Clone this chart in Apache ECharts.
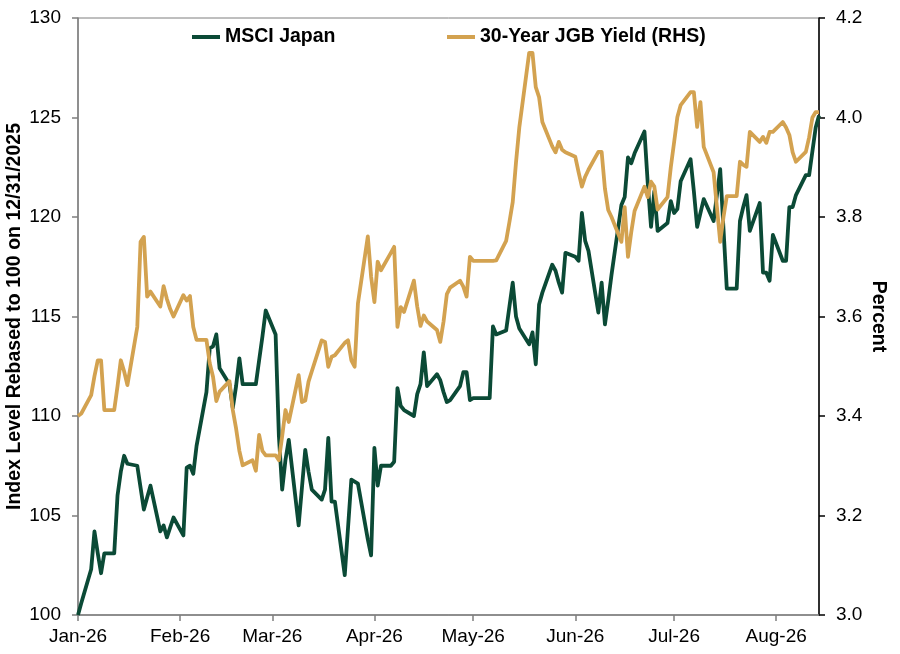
<!DOCTYPE html>
<html>
<head>
<meta charset="utf-8">
<title>MSCI Japan vs 30-Year JGB Yield</title>
<script src="https://cdn.jsdelivr.net/npm/echarts@6/dist/echarts.min.js"></script>
<style>
  html, body { margin: 0; padding: 0; background: #fff; }
  #chart { width: 900px; height: 654px; }
</style>
</head>
<body>
<div id="chart"></div>
<script>
// date range of the daily series (weekdays, holidays carried forward)
const firstDay = '2026-01-01';
const lastDay = '2026-08-14';

// x axis ticks
const monthStarts = ['2026-01-01', '2026-02-01', '2026-03-01', '2026-04-01',
  '2026-05-01', '2026-06-01', '2026-07-01', '2026-08-01'];
const monthLabels = ['Jan-26', 'Feb-26', 'Mar-26', 'Apr-26', 'May-26', 'Jun-26', 'Jul-26', 'Aug-26'];

// MSCI Japan, rebased to 100 on 12/31/2025 (left axis)
const msciJapan = [
  100.0, 100.6, 102.3, 104.2, 103.1, 102.1, 103.1, 103.1, 106.0, 107.2,
  108.0, 107.6, 107.5, 106.4, 105.3, 105.9, 106.5, 104.2, 104.5, 103.9,
  104.4, 104.9, 104.0, 107.4, 107.5, 107.1, 108.5, 111.2, 113.4, 113.5,
  114.1, 112.4, 111.6, 110.4, 111.5, 112.9, 111.6, 111.6, 111.6, 112.8,
  114.0, 115.3, 114.1, 109.0, 106.3, 107.8, 108.8, 104.5, 106.4, 108.3,
  107.2, 106.3, 105.8, 106.3, 108.9, 105.7, 105.7, 102.0, 104.4, 106.8,
  106.7, 106.6, 103.8, 103.0, 108.4, 106.5, 107.5, 107.5, 107.7, 111.4,
  110.5, 110.3, 110.0, 111.1, 111.6, 113.2, 111.5, 112.1, 111.8, 111.2,
  110.7, 110.8, 111.5, 112.2, 112.2, 110.8, 110.9, 110.9, 110.9, 110.9,
  114.5, 114.1, 114.3, 115.5, 116.7, 115.0, 114.4, 113.6, 114.2, 112.6,
  115.6, 116.2, 117.6, 117.3, 116.7, 116.2, 118.2, 118.0, 117.8, 120.2,
  118.8, 118.3, 115.2, 116.7, 114.6, 115.8, 117.1, 120.6, 121.0, 123.0,
  122.7, 123.2, 124.3, 121.7, 119.5, 121.3, 119.3, 119.7, 120.8, 120.2,
  120.4, 121.8, 122.9, 121.3, 119.5, 120.2, 120.9, 119.8, 121.1, 122.4,
  119.4, 116.4, 116.4, 119.8, 120.5, 121.1, 119.3, 120.7, 117.2, 117.2,
  116.8, 119.1, 117.8, 117.8, 120.5, 120.5, 121.1, 122.1, 122.1, 123.3,
  124.5, 125.1
];

// 30-year JGB yield, percent (right axis)
const jgb30y = [
  3.400, 3.405, 3.442, 3.480, 3.512, 3.512, 3.412, 3.412, 3.460, 3.512,
  3.490, 3.462, 3.579, 3.750, 3.760, 3.640, 3.650, 3.620, 3.661, 3.635,
  3.615, 3.600, 3.643, 3.632, 3.641, 3.579, 3.553, 3.553, 3.506, 3.479,
  3.430, 3.449, 3.470, 3.412, 3.375, 3.330, 3.301, 3.311, 3.290, 3.362,
  3.330, 3.321, 3.321, 3.311, 3.360, 3.412, 3.388, 3.482, 3.428, 3.431,
  3.469, 3.490, 3.552, 3.549, 3.499, 3.519, 3.522, 3.547, 3.552, 3.512,
  3.499, 3.626, 3.761, 3.680, 3.629, 3.710, 3.693, 3.728, 3.740, 3.579,
  3.619, 3.609, 3.672, 3.620, 3.581, 3.602, 3.590, 3.573, 3.549, 3.590,
  3.645, 3.658, 3.672, 3.660, 3.640, 3.720, 3.712, 3.712, 3.712, 3.712,
  3.712, 3.713, 3.752, 3.790, 3.830, 3.910, 3.980, 4.130, 4.130, 4.061,
  4.041, 3.991, 3.942, 3.930, 3.951, 3.935, 3.930, 3.921, 3.890, 3.861,
  3.881, 3.895, 3.931, 3.931, 3.857, 3.814, 3.800, 3.750, 3.820, 3.720,
  3.770, 3.812, 3.861, 3.840, 3.871, 3.861, 3.815, 3.840, 3.900, 3.950,
  4.001, 4.025, 4.051, 4.051, 3.981, 4.031, 3.941, 3.890, 3.820, 3.750,
  3.800, 3.842, 3.842, 3.911, 3.905, 3.901, 3.971, 3.951, 3.961, 3.949,
  3.971, 3.971, 3.991, 3.980, 3.965, 3.930, 3.911, 3.931, 3.960, 4.000,
  4.011, 4.011
];

const GREEN = '#0b4a36';
const GOLD = '#d3a250';
const AXIS_GREY = '#7f7f7f';
const FONT = 'Liberation Sans, Arial, sans-serif';

function toTime(s) {
  return new Date(s + 'T00:00:00').getTime();
}

// weekday timestamps between two dates
function weekdays(from, to) {
  const out = [];
  const d = new Date(from + 'T00:00:00');
  const end = new Date(to + 'T00:00:00');
  while (d <= end) {
    const w = d.getDay();
    if (w !== 0 && w !== 6) out.push(d.getTime());
    d.setDate(d.getDate() + 1);
  }
  return out;
}

const days = weekdays(firstDay, lastDay);
const tickTimes = monthStarts.map(toTime);

const chart = echarts.init(document.getElementById('chart'), null, { renderer: 'canvas' });

const legendText = { fontFamily: FONT, fontWeight: 'bold', fontSize: 19.5, color: '#000' };

const option = {
  backgroundColor: '#fff',
  animation: false,
  textStyle: { fontFamily: FONT },
  grid: {
    left: 78, right: 81, top: 18, bottom: 39,
    outerBoundsMode: 'none',
    show: true, borderColor: AXIS_GREY, borderWidth: 1, backgroundColor: 'transparent'
  },
  legend: [
    {
      data: ['MSCI Japan'],
      left: 187, top: 22,
      icon: 'rect', itemWidth: 28, itemHeight: 4,
      textStyle: legendText
    },
    {
      data: ['30-Year JGB Yield (RHS)'],
      left: 442, top: 22,
      icon: 'rect', itemWidth: 28, itemHeight: 4,
      textStyle: legendText
    }
  ],
  xAxis: {
    // timestamps on a plain value axis, month ticks placed by hand
    type: 'value',
    min: toTime(firstDay),
    max: toTime(lastDay),
    axisLine: { show: true, lineStyle: { color: AXIS_GREY, width: 1.5 } },
    axisTick: {
      show: true, length: 6, inside: false,
      customValues: tickTimes,
      lineStyle: { color: AXIS_GREY, width: 1.5 }
    },
    axisLabel: {
      customValues: tickTimes,
      margin: 12,
      fontSize: 19, color: '#000', fontFamily: FONT,
      formatter: function (val) {
        return monthLabels[new Date(val).getMonth()];
      }
    },
    splitLine: { show: false }
  },
  yAxis: [
    {
      type: 'value',
      min: 100, max: 130, interval: 5,
      name: 'Index Level Rebased to 100 on 12/31/2025',
      nameLocation: 'middle',
      nameGap: 53,
      nameMoveOverlap: false,
      nameRotate: 90,
      nameTextStyle: { fontFamily: FONT, fontWeight: 'bold', fontSize: 19.5, color: '#000' },
      axisLine: { show: true, lineStyle: { color: AXIS_GREY, width: 1.5 } },
      axisTick: { show: true, length: 6, lineStyle: { color: AXIS_GREY, width: 1.5 } },
      axisLabel: { margin: 17, fontSize: 19, color: '#000', fontFamily: FONT },
      splitLine: { show: false }
    },
    {
      type: 'value',
      position: 'right',
      min: 3.0, max: 4.2, interval: 0.2,
      name: 'Percent',
      nameLocation: 'middle',
      nameGap: 49,
      nameMoveOverlap: false,
      nameRotate: -90,
      nameTextStyle: { fontFamily: FONT, fontWeight: 'bold', fontSize: 19.5, color: '#000' },
      axisLine: { show: true, lineStyle: { color: '#000', width: 1.5 } },
      axisTick: { show: true, length: 6, lineStyle: { color: '#000', width: 1.5 } },
      axisLabel: {
        margin: 17, fontSize: 19, color: '#000', fontFamily: FONT,
        formatter: function (v) { return v.toFixed(1); }
      },
      splitLine: { show: false }
    }
  ],
  series: [
    {
      name: 'MSCI Japan',
      type: 'line',
      yAxisIndex: 0,
      symbol: 'none',
      color: GREEN,
      lineStyle: { color: GREEN, width: 3.8, join: 'round' },
      data: days.map((t, i) => [t, msciJapan[i]])
    },
    {
      name: '30-Year JGB Yield (RHS)',
      type: 'line',
      yAxisIndex: 1,
      symbol: 'none',
      color: GOLD,
      lineStyle: { color: GOLD, width: 3.8, join: 'round' },
      data: days.map((t, i) => [t, jgb30y[i]])
    }
  ]
};

chart.setOption(option);
</script>
</body>
</html>
